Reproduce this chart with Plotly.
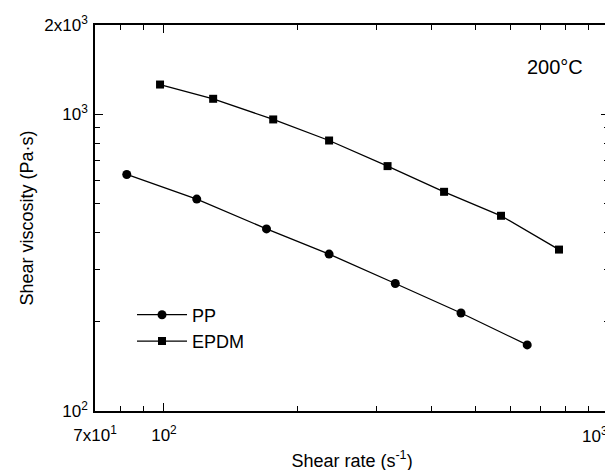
import plotly.graph_objects as go

# Data
pp_rate = [82.5, 118.5, 170, 235, 331, 465, 655]
pp_visc = [627, 518, 411, 338, 269, 214, 167]

epdm_rate = [98, 129, 176, 235, 318, 426, 572, 772]
epdm_visc = [1260, 1128, 961, 816, 669, 548, 455, 350]

x_major = [70, 100, 1000]
x_major_text = ["7x10<sup>1</sup>", "10<sup>2</sup>", "10<sup>3</sup>"]
x_minor = [80, 90, 200, 300, 400, 500, 600, 700, 800, 900]

y_major = [100, 1000, 2000]
y_major_text = ["10<sup>2</sup>", "10<sup>3</sup>", "2x10<sup>3</sup>"]
y_minor = [200, 300, 400, 500, 600, 700, 800, 900]

FONT = "Liberation Sans, Arial, sans-serif"

fig = go.Figure()
fig.add_trace(go.Scatter(
    x=pp_rate, y=pp_visc, name="PP", mode="lines+markers",
    line=dict(color="black", width=1.3),
    marker=dict(symbol="circle", size=9, color="black"),
))
fig.add_trace(go.Scatter(
    x=epdm_rate, y=epdm_visc, name="EPDM", mode="lines+markers",
    line=dict(color="black", width=1.3),
    marker=dict(symbol="square", size=8, color="black"),
))

axis_common = dict(
    showgrid=False, zeroline=False, showline=True, linecolor="black",
    linewidth=1.5, mirror="ticks", ticks="inside", tickcolor="black",
    tickwidth=1.2, ticklen=8, automargin=False,
    ticklabeloverflow="allow",
    tickfont=dict(family=FONT, size=17, color="black"),
)

# the last x label sits on the frame edge; draw it as an annotation nudged
# slightly left so it stays inside the page
x_tick_text_axis = x_major_text[:-1] + [""]

fig.update_xaxes(
    type="log", range=[1.845098, 3.0],
    tickmode="array", tickvals=x_major, ticktext=x_tick_text_axis,
    ticklabelstandoff=8,
    minor=dict(tickmode="array", tickvals=x_minor, ticks="inside",
               ticklen=5, tickcolor="black", tickwidth=1.2),
    title=dict(text="Shear rate (s<sup>-1</sup>)",
               font=dict(family=FONT, size=18, color="black"), standoff=10),
    **axis_common,
)
fig.update_yaxes(
    type="log", range=[2.0, 3.30103],
    tickmode="array", tickvals=y_major, ticktext=y_major_text,
    ticklabelstandoff=2,
    minor=dict(tickmode="array", tickvals=y_minor, ticks="inside",
               ticklen=5, tickcolor="black", tickwidth=1.2),
    title=dict(text="Shear viscosity (Pa·s)",
               font=dict(family=FONT, size=18, color="black"), standoff=6),
    **axis_common,
)

fig.add_annotation(
    text=x_major_text[-1], x=3.0, xref="x", y=0, yref="paper",
    xanchor="right", yanchor="top", xshift=1, yshift=-11,
    showarrow=False, font=dict(family=FONT, size=17, color="black"),
)

fig.add_annotation(
    text="200°C", xref="paper", yref="paper", x=0.953, y=0.892,
    xanchor="right", yanchor="middle", showarrow=False,
    font=dict(family=FONT, size=20, color="black"),
)

fig.update_layout(
    width=613, height=470,
    margin=dict(l=87, r=12, t=17, b=67, autoexpand=False),
    paper_bgcolor="white", plot_bgcolor="white",
    showlegend=True,
    legend=dict(x=0.072, y=0.215, xanchor="left", yanchor="middle",
                bgcolor="rgba(0,0,0,0)", borderwidth=0,
                font=dict(family=FONT, size=18, color="black"),
                itemwidth=50, tracegroupgap=0),
    font=dict(family=FONT, color="black"),
)

fig.write_html("out.html")
